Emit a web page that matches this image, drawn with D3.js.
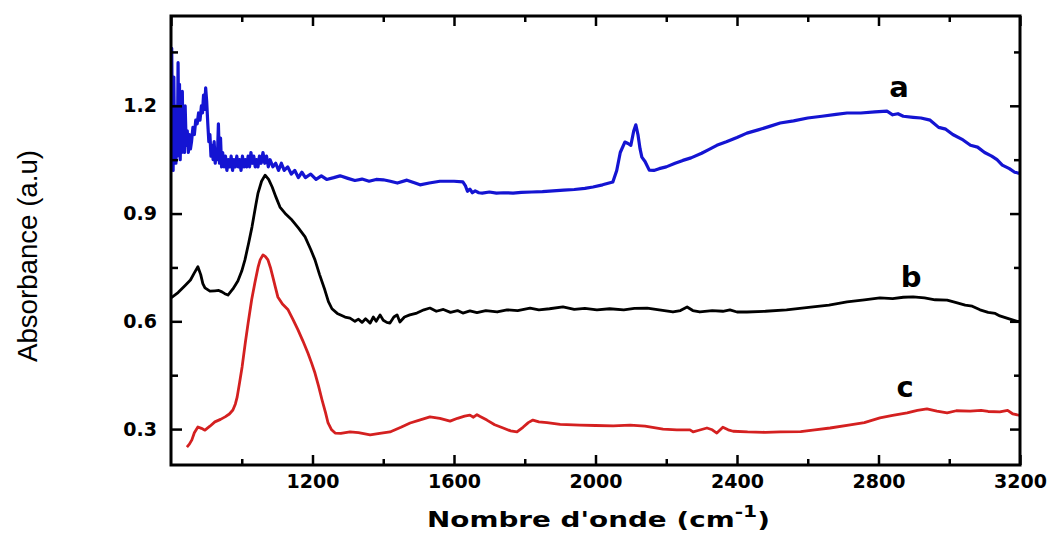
<!DOCTYPE html>
<html>
<head>
<meta charset="utf-8">
<script src="https://cdn.jsdelivr.net/npm/d3@7"></script>
<style>
  body { margin: 0; background: #fff; }
  svg { display: block; }
</style>
</head>
<body>
<div id="chart"></div>
<script>
// spectrum a (blue)
var waveA = [800,802,804,806,808,810,812,814,816,818,820,822,824,826,828,830,832,834,836,838,840,843,846,849,852,855,858,862,866,870,874,878,882,886,889,892,895,898,901,904,907,910,913,916,919,922,925,928,931,934,937,940,943,946,950,954,958,962,966,970,974,978,982,986,990,994,998,1002,1006,1010,1014,1018,1022,1026,1030,1034,1038,1042,1046,1050,1055,1060,1065,1070,1075,1080,1088,1096,1104,1112,1120,1130,1140,1150,1160,1170,1180,1195,1210,1225,1240,1260,1278,1300,1320,1340,1360,1380,1400,1420,1440,1467,1490,1504,1530,1560,1600,1625,1632,1638,1645,1652,1660,1670,1680,1700,1720,1740,1767,1790,1820,1850,1880,1910,1940,1970,1993,2020,2049,2060,2070,2083,2092,2100,2108,2114,2120,2126,2131,2140,2152,2165,2180,2200,2225,2247,2270,2300,2320,2343,2370,2400,2428,2460,2490,2522,2560,2600,2640,2680,2711,2750,2790,2824,2840,2855,2870,2898,2920,2946,2970,2990,3010,3039,3060,3080,3100,3120,3135,3150,3170,3185,3200];
var absA = [1.03,1.36,1.12,1.02,1.28,1.08,1.20,1.04,1.18,1.06,1.32,1.10,1.26,1.05,1.14,1.07,1.24,1.09,1.18,1.07,1.20,1.09,1.13,1.07,1.12,1.08,1.10,1.14,1.12,1.16,1.15,1.18,1.16,1.20,1.18,1.23,1.19,1.25,1.21,1.15,1.10,1.12,1.06,1.09,1.05,1.10,1.04,1.08,1.05,1.15,1.04,1.11,1.03,1.07,1.03,1.06,1.02,1.05,1.03,1.06,1.02,1.05,1.03,1.06,1.03,1.05,1.02,1.06,1.03,1.05,1.03,1.06,1.03,1.07,1.04,1.06,1.03,1.05,1.03,1.06,1.04,1.07,1.04,1.06,1.03,1.05,1.03,1.04,1.02,1.04,1.02,1.03,1.01,1.02,1.00,1.015,1.00,1.01,0.995,1.005,0.995,1.00,1.005,0.998,0.992,0.996,0.99,0.995,0.994,0.99,0.985,0.993,0.985,0.98,0.985,0.99,0.99,0.988,0.978,0.962,0.968,0.958,0.963,0.958,0.957,0.960,0.957,0.958,0.957,0.959,0.960,0.961,0.963,0.965,0.967,0.970,0.974,0.980,0.988,1.02,1.07,1.099,1.095,1.09,1.13,1.147,1.12,1.08,1.057,1.045,1.021,1.02,1.025,1.03,1.04,1.048,1.055,1.068,1.078,1.09,1.10,1.112,1.124,1.133,1.142,1.152,1.158,1.166,1.171,1.176,1.18,1.18,1.183,1.185,1.175,1.178,1.171,1.168,1.166,1.160,1.14,1.135,1.12,1.105,1.09,1.085,1.07,1.06,1.05,1.035,1.025,1.015,1.012];

// spectrum b (black)
var waveB = [800,820,840,855,866,876,884,890,896,910,924,935,944,952,961,975,989,1000,1009,1020,1029,1040,1046,1056,1066,1076,1086,1097,1108,1125,1142,1160,1179,1195,1207,1220,1235,1245,1255,1270,1292,1306,1320,1330,1340,1350,1363,1372,1380,1391,1400,1410,1419,1430,1439,1447,1460,1475,1495,1515,1532,1550,1570,1590,1610,1625,1645,1665,1690,1722,1750,1780,1815,1840,1870,1908,1940,1970,2004,2040,2080,2110,2146,2180,2219,2240,2259,2275,2295,2330,2360,2380,2400,2428,2480,2540,2615,2660,2711,2760,2804,2840,2870,2898,2930,2960,2994,3020,3045,3065,3087,3110,3130,3143,3165,3192,3200];
var absB = [0.665,0.68,0.70,0.715,0.735,0.752,0.73,0.705,0.693,0.684,0.685,0.686,0.682,0.677,0.673,0.69,0.712,0.74,0.771,0.82,0.863,0.925,0.957,0.99,1.007,0.995,0.974,0.945,0.918,0.898,0.882,0.86,0.835,0.80,0.771,0.73,0.687,0.655,0.635,0.622,0.612,0.609,0.60,0.606,0.597,0.607,0.595,0.612,0.60,0.618,0.603,0.597,0.595,0.612,0.618,0.598,0.612,0.618,0.623,0.632,0.637,0.628,0.633,0.625,0.630,0.623,0.629,0.624,0.630,0.626,0.632,0.630,0.637,0.632,0.635,0.640,0.633,0.636,0.632,0.635,0.632,0.636,0.637,0.632,0.626,0.630,0.640,0.630,0.626,0.630,0.628,0.632,0.626,0.626,0.628,0.632,0.640,0.645,0.654,0.660,0.665,0.663,0.667,0.668,0.665,0.660,0.659,0.652,0.645,0.642,0.632,0.625,0.622,0.615,0.608,0.600,0.60];

// spectrum c (red)
var waveC = [845,852,859,866,876,886,896,910,924,940,953,965,975,982,987,994,1001,1010,1018,1028,1037,1046,1052,1060,1067,1074,1081,1088,1095,1102,1115,1131,1145,1159,1173,1187,1197,1207,1217,1227,1237,1244,1254,1264,1280,1306,1330,1363,1390,1419,1450,1476,1500,1532,1560,1589,1610,1630,1645,1655,1665,1674,1693,1715,1739,1760,1778,1795,1810,1823,1840,1863,1900,1956,2000,2050,2098,2140,2191,2230,2267,2276,2290,2315,2330,2343,2360,2375,2389,2430,2480,2522,2580,2620,2663,2720,2760,2804,2840,2881,2910,2937,2965,2994,3020,3059,3090,3110,3143,3165,3180,3200];
var absC = [0.250,0.258,0.270,0.29,0.306,0.302,0.297,0.308,0.320,0.327,0.334,0.342,0.353,0.370,0.389,0.43,0.473,0.54,0.595,0.66,0.707,0.75,0.771,0.785,0.780,0.771,0.75,0.723,0.695,0.668,0.648,0.632,0.605,0.576,0.545,0.512,0.485,0.456,0.42,0.381,0.345,0.317,0.298,0.289,0.288,0.292,0.290,0.284,0.288,0.292,0.305,0.317,0.324,0.334,0.330,0.322,0.33,0.336,0.339,0.333,0.340,0.335,0.325,0.312,0.303,0.295,0.292,0.305,0.318,0.325,0.320,0.318,0.313,0.311,0.310,0.309,0.311,0.308,0.300,0.298,0.298,0.292,0.296,0.303,0.298,0.289,0.305,0.298,0.294,0.292,0.291,0.292,0.293,0.298,0.303,0.312,0.318,0.331,0.338,0.345,0.352,0.356,0.350,0.345,0.351,0.350,0.352,0.349,0.348,0.352,0.342,0.338];

var xMajor = [800, 1200, 1600, 2000, 2400, 2800, 3200];
var xMinor = [1000, 1400, 1800, 2200, 2600, 3000];
var xLabels = [1200, 1600, 2000, 2400, 2800, 3200];
var yMajor = [0.3, 0.6, 0.9, 1.2];
var yMinor = [0.45, 0.75, 1.05, 1.35];

var curveNames = ["a", "b", "c"];
var curveColors = ["#1414d2", "#000000", "#d42020"];
// where each curve letter sits, in data units (wavenumber, absorbance of baseline)
var labelWave = [2858, 2892, 2875];
var labelAbs = [1.225, 0.696, 0.389];

var W = 1048, H = 534;
var margin = {top: 16, right: 28, bottom: 69, left: 171};
var iw = W - margin.left - margin.right,
    ih = H - margin.top - margin.bottom;

var svg = d3.select("#chart").append("svg")
    .attr("width", W)
    .attr("height", H);

var g = svg.append("g")
    .attr("transform", "translate(" + margin.left + "," + margin.top + ")");

var x = d3.scaleLinear().domain([800, 3200]).range([0, iw]);
var y = d3.scaleLinear().domain([0.2, 1.45]).range([ih, 0]);

var tickFont = "'DejaVu Sans', Verdana, sans-serif";

// clip so lines stay inside the frame
g.append("clipPath").attr("id", "clip")
  .append("rect").attr("width", iw).attr("height", ih);

var line = d3.line()
    .x(function(d) { return x(d[0]); })
    .y(function(d) { return y(d[1]); });

var series = [
    d3.zip(waveA, absA),
    d3.zip(waveB, absB),
    d3.zip(waveC, absC)
];

g.append("g").attr("clip-path", "url(#clip)")
  .selectAll("path")
  .data(series)
  .enter().append("path")
    .attr("d", line)
    .attr("fill", "none")
    .attr("stroke", function(d, i) { return curveColors[i]; })
    .attr("stroke-width", function(d, i) { return i === 0 ? 3.2 : 2.8; })
    .attr("stroke-linejoin", "round");

// axes, ticks pointing inward on all four sides
function styleAxis(sel) {
    sel.select(".domain").remove();
    sel.selectAll(".tick line").attr("stroke", "#000").attr("stroke-width", 2.5);
    sel.selectAll("text")
        .attr("fill", "#000")
        .style("font-family", tickFont)
        .style("font-weight", "bold")
        .style("font-size", "19px");
}

g.append("g").attr("transform", "translate(0," + ih + ")")
    .call(d3.axisBottom(x).tickValues(xLabels).tickSize(-10).tickPadding(10).tickFormat(d3.format("d")))
    .call(styleAxis);
g.append("g").attr("transform", "translate(0," + ih + ")")
    .call(d3.axisBottom(x).tickValues(xMinor).tickSize(-6).tickFormat(""))
    .call(styleAxis);
g.append("g")
    .call(d3.axisTop(x).tickValues(xMajor).tickSize(-10).tickFormat(""))
    .call(styleAxis);
g.append("g")
    .call(d3.axisTop(x).tickValues(xMinor).tickSize(-6).tickFormat(""))
    .call(styleAxis);

g.append("g")
    .call(d3.axisLeft(y).tickValues(yMajor).tickSize(-11).tickPadding(14).tickFormat(d3.format(".1f")))
    .call(styleAxis);
g.append("g")
    .call(d3.axisLeft(y).tickValues(yMinor).tickSize(-7).tickFormat(""))
    .call(styleAxis);
g.append("g").attr("transform", "translate(" + iw + ",0)")
    .call(d3.axisRight(y).tickValues(yMajor).tickSize(-10).tickFormat(""))
    .call(styleAxis);
g.append("g").attr("transform", "translate(" + iw + ",0)")
    .call(d3.axisRight(y).tickValues(yMinor).tickSize(-6).tickFormat(""))
    .call(styleAxis);

// frame
g.append("rect")
    .attr("width", iw)
    .attr("height", ih)
    .attr("fill", "none")
    .attr("stroke", "#000")
    .attr("stroke-width", 3);

// curve labels
g.selectAll(".lbl")
  .data(curveNames)
  .enter().append("text")
    .attr("class", "lbl")
    .attr("x", function(d, i) { return x(labelWave[i]); })
    .attr("y", function(d, i) { return y(labelAbs[i]); })
    .attr("text-anchor", "middle")
    .style("font-family", tickFont)
    .style("font-weight", "bold")
    .style("font-size", "29px")
    .text(function(d) { return d; });

// y title
svg.append("text")
    .attr("transform", "translate(37,256) rotate(-90)")
    .attr("text-anchor", "middle")
    .attr("textLength", 212)
    .attr("lengthAdjust", "spacingAndGlyphs")
    .style("font-family", "'Liberation Sans', Arial, sans-serif")
    .style("font-size", "28px")
    .text("Absorbance (a.u)");

// x title with superscript
var xt = svg.append("text")
    .style("font-family", tickFont)
    .style("font-weight", "bold")
    .style("font-size", "22px");
xt.append("tspan").text("Nombre d'onde (cm");
xt.append("tspan").attr("dy", -10).style("font-size", "16px").text("-1");
xt.append("tspan").attr("dy", 10).text(")");
var bb = xt.node().getBBox();
var sx = 343 / bb.width;
xt.attr("transform", "translate(427,527) scale(" + sx + ",1) translate(" + (-bb.x) + ",0)");
</script>
</body>
</html>
